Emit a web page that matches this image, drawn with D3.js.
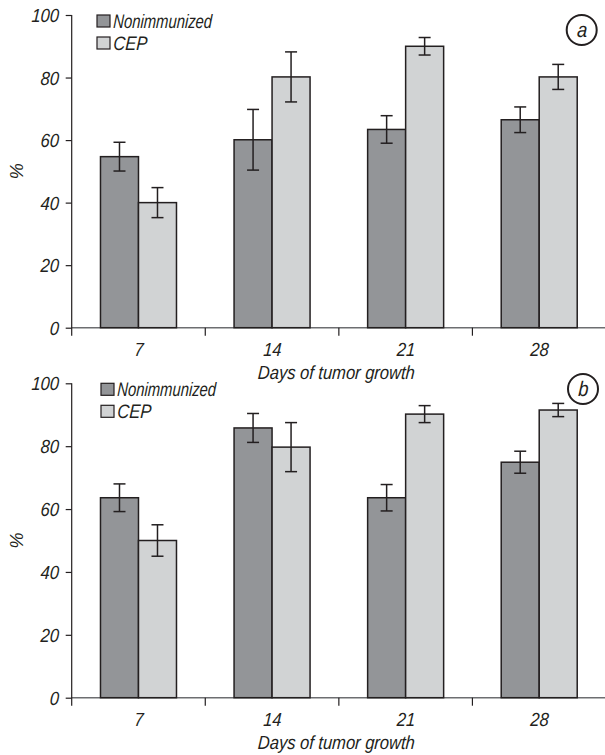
<!DOCTYPE html>
<html>
<head>
<meta charset="utf-8">
<script src="https://cdn.jsdelivr.net/npm/d3@7"></script>
<style>
  body { margin: 0; background: #fff; }
  svg text { font-family: "Liberation Sans", Arial, sans-serif; font-style: italic; fill: #231f20; }
</style>
</head>
<body>
<div id="chart"></div>
<script>
const days = ["7", "14", "21", "28"];
const seriesNames = ["Nonimmunized", "CEP"];
const yTicks = [0, 20, 40, 60, 80, 100];

// panel a
const aNonimmunized = [54.7, 60.1, 63.4, 66.5];
const aNonimmunizedErr = [4.6, 9.7, 4.4, 4.1];
const aCEP = [40, 80.2, 90, 80.2];
const aCEPErr = [4.8, 8, 2.8, 4];

// panel b
const bNonimmunized = [63.6, 85.8, 63.6, 74.9];
const bNonimmunizedErr = [4.4, 4.6, 4.2, 3.5];
const bCEP = [50, 79.7, 90.2, 91.5];
const bCEPErr = [5, 7.8, 2.7, 2.1];

const colors = {Nonimmunized: "#939598", CEP: "#d1d3d4"};
const ink = "#231f20";
const squeeze = 0.87;   // condensed look of the original typeface

const svg = d3.select("#chart").append("svg")
    .attr("width", 605)
    .attr("height", 755);

function label(parent, x, y, str, size, anchor, sx) {
    return parent.append("text")
        .attr("transform", `translate(${x},${y}) scale(${sx || squeeze},1) skewX(-4)`)
        .attr("text-anchor", anchor || "start")
        .attr("font-size", size)
        .style("font-style", "italic")
        .text(str);
}

function drawPanel(opts) {
    const g = svg.append("g");
    const y = d3.scaleLinear().domain([0, 100]).range([opts.bottom, opts.top]);
    const x0 = d3.scaleBand().domain(days).range([71.7, 606]);
    const barW = 38;
    const x1 = d3.scaleBand().domain(seriesNames)
        .range([x0.bandwidth() / 2 - barW, x0.bandwidth() / 2 + barW]);

    const rows = days.map((d, i) => ({
        day: d,
        values: [
            {name: "Nonimmunized", v: opts.non[i], e: opts.nonErr[i]},
            {name: "CEP", v: opts.cep[i], e: opts.cepErr[i]}
        ]
    }));

    // x axis baseline + ticks between groups
    g.append("line")
        .attr("x1", x0.range()[0]).attr("x2", 605)
        .attr("y1", y(0)).attr("y2", y(0))
        .attr("stroke", "#6d6e71").attr("stroke-width", 1.5);
    g.selectAll(".xtick").data(days.slice(1)).enter().append("line")
        .attr("x1", d => x0(d)).attr("x2", d => x0(d))
        .attr("y1", y(0)).attr("y2", y(0) + 8)
        .attr("stroke", ink).attr("stroke-width", 1.2);

    // bars
    const grp = g.selectAll(".grp").data(rows).enter().append("g")
        .attr("transform", d => `translate(${x0(d.day)},0)`);
    grp.selectAll("rect").data(d => d.values).enter().append("rect")
        .attr("x", d => x1(d.name))
        .attr("width", x1.bandwidth())
        .attr("y", d => y(d.v))
        .attr("height", d => y(0) - y(d.v))
        .attr("fill", d => colors[d.name])
        .attr("stroke", ink).attr("stroke-width", 1.5);

    // error bars
    const eb = grp.selectAll(".eb").data(d => d.values).enter().append("g")
        .attr("stroke", ink).attr("stroke-width", 1.5);
    const cx = d => x1(d.name) + x1.bandwidth() / 2;
    eb.append("line")
        .attr("x1", cx).attr("x2", cx)
        .attr("y1", d => y(d.v + d.e)).attr("y2", d => y(d.v - d.e));
    [1, -1].forEach(s => {
        eb.append("line")
            .attr("x1", d => cx(d) - 6).attr("x2", d => cx(d) + 6)
            .attr("y1", d => y(d.v + s * d.e)).attr("y2", d => y(d.v + s * d.e));
    });

    // y axis (ticks from d3, labels drawn in the condensed italic style)
    const yAxis = g.append("g")
        .attr("transform", `translate(${x0.range()[0]},0)`)
        .call(d3.axisLeft(y).tickValues(yTicks).tickSize(6).tickFormat(""));
    yAxis.select(".domain").remove();
    yAxis.selectAll(".tick text").remove();
    yAxis.append("line")
        .attr("x1", 0).attr("x2", 0)
        .attr("y1", y(100)).attr("y2", y(0) + 8)
        .attr("stroke", ink).attr("stroke-width", 1.2);
    yAxis.selectAll(".tick line").attr("stroke", ink).attr("stroke-width", 1.2);
    yTicks.forEach(t => label(yAxis, -13, y(t) + 7, String(t), 19, "end"));

    // category labels
    days.forEach(d => label(g, x0(d) + x0.bandwidth() / 2, y(0) + 28, d, 19, "middle"));
    label(g, 336, y(0) + 51, "Days of tumor growth", 19, "middle");

    g.append("text")
        .attr("transform", `translate(23,${(y(0) + y(100)) / 2}) rotate(-90)`)
        .attr("text-anchor", "middle")
        .attr("font-size", 18)
        .text("%");

    // legend
    const leg = g.selectAll(".leg").data(seriesNames).enter().append("g")
        .attr("transform", (d, i) => `translate(${opts.legX},${y(100) + i * 22})`);
    leg.append("rect")
        .attr("width", 13).attr("height", 12)
        .attr("fill", d => colors[d])
        .attr("stroke", ink).attr("stroke-width", 1.2);
    leg.each(function(d) { label(d3.select(this), 16, 12.5, d, 19.5, "start", d === "CEP" ? 0.85 : 0.76); });

    // panel letter
    g.append("circle")
        .attr("cx", opts.cx).attr("cy", opts.cy).attr("r", 15)
        .attr("fill", "#fff").attr("stroke", ink).attr("stroke-width", 2);
    label(g, opts.cx, opts.cy + 7, opts.letter, 21, "middle");
}

drawPanel({top: 15, bottom: 327.7, non: aNonimmunized, nonErr: aNonimmunizedErr,
    cep: aCEP, cepErr: aCEPErr, legX: 97, cx: 581.7, cy: 30, letter: "a"});
drawPanel({top: 383.3, bottom: 697.7, non: bNonimmunized, nonErr: bNonimmunizedErr,
    cep: bCEP, cepErr: bCEPErr, legX: 101, cx: 583, cy: 389, letter: "b"});
</script>
</body>
</html>
